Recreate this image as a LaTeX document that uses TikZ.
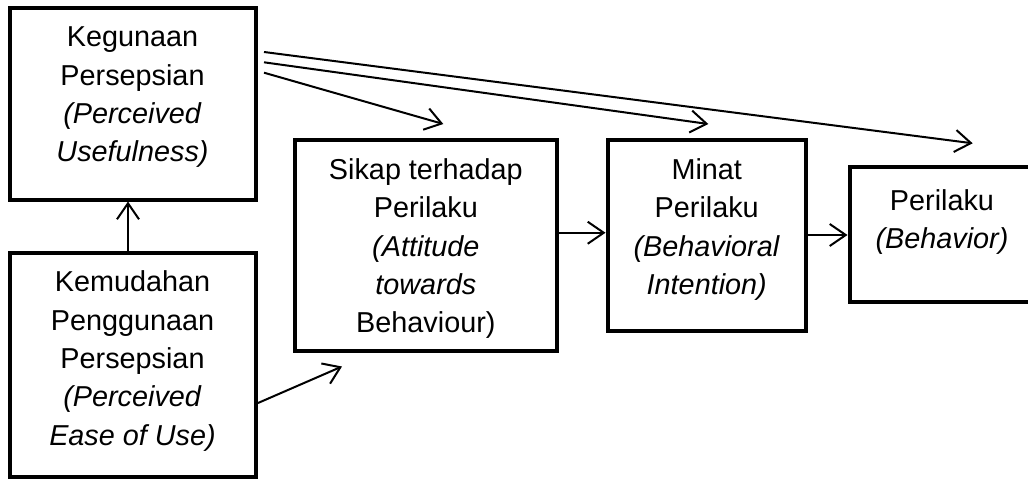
\documentclass[tikz,border=0pt]{standalone}
\usepackage{fontspec}
\setmainfont{Liberation Sans}
\usetikzlibrary{arrows.meta,calc}
\begin{document}
\begin{tikzpicture}[x=1pt,y=-1pt,
  box/.style={draw=black, line width=4pt, rectangle, inner sep=0pt},
  lbl/.style={anchor=north, inner sep=0pt, align=center, font=\fontsize{28.8}{38.3}\selectfont},
  arr/.style={draw=black, line width=2pt, -{Straight Barb[length=16pt,width=22pt]}},
]
\useasboundingbox (0,0) rectangle (1028,479);
\clip (0,0) rectangle (1028,479);
% boxes
\node[box, minimum width=246pt, minimum height=192pt] (b1) at (132.5,103.5) {};
\node[box, minimum width=246pt, minimum height=224.5pt] (b2) at (132.5,364.75) {};
\node[box, minimum width=262.3pt, minimum height=211.5pt] (b3) at (425.85,245.25) {};
\node[box, minimum width=198.5pt, minimum height=191pt] (b4) at (706.75,235) {};
\node[box, minimum width=185pt, minimum height=135pt] (b5) at (942,234.5) {};
% texts
\node[lbl] (t1) at (132.5,16.7) {\rule{0pt}{30pt}Kegunaan\\Persepsian\\\textit{(Perceived}\\\textit{Usefulness)}};
\node[lbl] (t2) at (132.5,261.7) {\rule{0pt}{30pt}Kemudahan\\Penggunaan\\Persepsian\\\textit{(Perceived}\\\textit{Ease of Use)}};
\node[lbl] (t3) at (425.85,149.3) {\rule{0pt}{30pt}Sikap terhadap\\Perilaku\\\textit{(Attitude}\\\textit{towards}\\Behaviour)};
\node[lbl] (t4) at (706.75,149.3) {\rule{0pt}{30pt}Minat\\Perilaku\\\textit{(Behavioral}\\\textit{Intention)}};
\node[lbl] (t5) at (942,180) {\rule{0pt}{30pt}Perilaku\\\textit{(Behavior)}};
% free arrow ends
\coordinate (p3) at (443.3,124);
\coordinate (p4) at (708.3,124);
\coordinate (p5) at (972.7,143.3);
\coordinate (q3) at (342,366.5);
% connectors
\draw[arr] ($(b1.east)+(6.5,-51.5)$) -- (p5);
\draw[arr] ($(b1.east)+(6.5,-41.2)$) -- (p4);
\draw[arr] ($(b1.east)+(6.5,-30.8)$) -- (p3);
\draw[arr] ([xshift=-4.5pt]b2.north) -- ([xshift=-4.5pt]b1.south);
\draw[arr] ($(b2.east)+(0.5,38.25)$) -- (q3);
\coordinate (m34) at ($(b3.east)+(0,-12.5)$);
\draw[arr] (m34) -- (b4.west |- m34);
\draw[arr] (b4.east) -- (b5.west |- b4.east);
\end{tikzpicture}
\end{document}
